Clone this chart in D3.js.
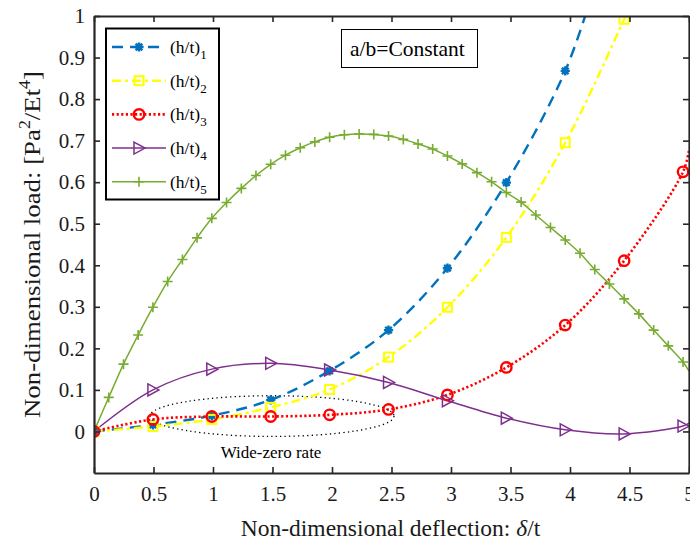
<!DOCTYPE html>
<html>
<head>
<meta charset="utf-8">
<script src="https://cdn.jsdelivr.net/npm/d3@7"></script>
<style>
	body { margin: 0; background: #fff; }
	svg { display: block; font-family: "Liberation Serif", "Times New Roman", serif; }
</style>
</head>
<body>
<div id="chart"></div>
<script>
/* marker x positions shared by series 1-4 */
const xMarks = [0, 0.495, 0.99, 1.485, 1.98, 2.475, 2.97, 3.465, 3.96, 4.455, 4.95];

const s1X = [0, 0.495, 0.99, 1.485, 1.98, 2.475, 2.97, 3.465, 3.96, 4.2];
const s1Y = [0, 0.016, 0.038, 0.076, 0.146, 0.244, 0.393, 0.599, 0.868, 1.066];

const s2X = [0, 0.495, 0.99, 1.485, 1.98, 2.475, 2.97, 3.465, 3.96, 4.455, 4.56];
const s2Y = [0, 0.012, 0.029, 0.058, 0.101, 0.179, 0.299, 0.467, 0.695, 0.992, 1.06];

const s3X = xMarks.concat([5]);
const s3Y = [0, 0.029, 0.036, 0.036, 0.040, 0.053, 0.088, 0.154, 0.256, 0.411, 0.625, 0.677];

const s4X = xMarks.concat([5]);
const s4Y = [0, 0.100, 0.150, 0.164, 0.148, 0.118, 0.074, 0.032, 0.004, -0.006, 0.013, 0.020];

const s5X = [0, 0.124, 0.248, 0.371, 0.495, 0.619, 0.743, 0.866, 0.99, 1.114, 1.238, 1.361, 1.485,
	1.609, 1.733, 1.856, 1.98, 2.104, 2.228, 2.351, 2.475, 2.599, 2.723, 2.846, 2.97, 3.094, 3.218,
	3.341, 3.465, 3.589, 3.713, 3.836, 3.96, 4.084, 4.208, 4.331, 4.455, 4.579, 4.703, 4.826, 4.95, 5];
const s5Y = [0, 0.082, 0.162, 0.232, 0.299, 0.361, 0.414, 0.466, 0.513, 0.551, 0.585, 0.616, 0.643,
	0.665, 0.683, 0.697, 0.708, 0.714, 0.716, 0.715, 0.711, 0.703, 0.692, 0.680, 0.663, 0.644, 0.623,
	0.601, 0.575, 0.552, 0.521, 0.491, 0.461, 0.429, 0.390, 0.355, 0.319, 0.283, 0.244, 0.206, 0.167, 0.145];

const seriesNames = ["1", "2", "3", "4", "5"];
const xTicks = [0, 0.5, 1, 1.5, 2, 2.5, 3, 3.5, 4, 4.5, 5];
const yTicks = [0, 0.1, 0.2, 0.3, 0.4, 0.5, 0.6, 0.7, 0.8, 0.9, 1];

/* ellipse around the flat part: centre x, centre y, x radius, y radius (data units) */
const zoneEllipse = [1.496, 0.037, 1.025, 0.049];

const width = 690, height = 547;
const margin = { left: 94, right: 1, top: 16, bottom: 74 };
const axisColor = "#262626";

const svg = d3.select("#chart").append("svg")
	.attr("width", width)
	.attr("height", height);

const x = d3.scaleLinear().domain([0, 5]).range([margin.left, width - margin.right]);
const y = d3.scaleLinear().domain([-0.1, 1]).range([height - margin.bottom, margin.top]);

svg.append("clipPath").attr("id", "plot-clip")
	.append("rect")
	.attr("x", x(0)).attr("y", y(1))
	.attr("width", x(5) - x(0)).attr("height", y(-0.1) - y(1));

/* marker shapes */
const markers = {
	asterisk: (g, c) => g.append("path")
		.attr("d", "M-4.6,0H4.6M0,-4.6V4.6M-3.3,-3.3L3.3,3.3M-3.3,3.3L3.3,-3.3")
		.attr("fill", "none").attr("stroke", c).attr("stroke-width", 2.4),
	square: (g, c) => g.append("rect")
		.attr("x", -4.5).attr("y", -4.5).attr("width", 9).attr("height", 9)
		.attr("fill", "none").attr("stroke", c).attr("stroke-width", 2),
	circle: (g, c) => g.append("circle")
		.attr("r", 5.2)
		.attr("fill", "none").attr("stroke", c).attr("stroke-width", 2.4),
	triangle: (g, c) => g.append("path")
		.attr("d", "M-5,-6L6,0L-5,6Z")
		.attr("fill", "none").attr("stroke", c).attr("stroke-width", 1.5),
	plus: (g, c) => g.append("path")
		.attr("d", "M-5,0H5M0,-5V5")
		.attr("fill", "none").attr("stroke", c).attr("stroke-width", 1.6)
};

const series = [
	{ xs: s1X, ys: s1Y, color: "#0072BD", width: 2.4, dash: "11,7", marker: "asterisk" },
	{ xs: s2X, ys: s2Y, color: "#FFFF00", width: 2.4, dash: "9,4,3,4", marker: "square" },
	{ xs: s3X, ys: s3Y, color: "#FF0000", width: 2.6, dash: "2.2,2.4", marker: "circle" },
	{ xs: s4X, ys: s4Y, color: "#7E2F8E", width: 1.5, dash: null, marker: "triangle" },
	{ xs: s5X, ys: s5Y, color: "#77AC30", width: 1.5, dash: null, marker: "plus" }
].map((s, i) => {
	s.name = seriesNames[i];
	s.points = s.xs.map((v, j) => ({ x: v, y: s.ys[j] }));
	return s;
});

const line = d3.line()
	.x(d => x(d.x))
	.y(d => y(d.y))
	.curve(d3.curveCatmullRom.alpha(0.5));

/* dotted ellipse + caption */
svg.append("ellipse")
	.attr("cx", x(zoneEllipse[0]))
	.attr("cy", y(zoneEllipse[1]))
	.attr("rx", x(zoneEllipse[2]) - x(0))
	.attr("ry", y(0) - y(zoneEllipse[3]))
	.attr("fill", "none")
	.attr("stroke", "#000")
	.attr("stroke-width", 1.3)
	.attr("stroke-dasharray", "1.3,3.2");

svg.append("text")
	.attr("x", x(zoneEllipse[0]) - 1)
	.attr("y", 458)
	.attr("text-anchor", "middle")
	.attr("font-size", "17px")
	.attr("fill", "#000")
	.text("Wide-zero rate");

const plot = svg.append("g").attr("clip-path", "url(#plot-clip)");

series.forEach(s => {
	plot.append("path")
		.datum(s.points)
		.attr("d", line)
		.attr("fill", "none")
		.attr("stroke", s.color)
		.attr("stroke-width", s.width)
		.attr("stroke-dasharray", s.dash);
});

series.forEach(s => {
	s.points.filter(d => d.x < 4.96 && d.y <= 1).forEach(d => {
		const g = plot.append("g").attr("transform", `translate(${x(d.x)},${y(d.y)})`);
		markers[s.marker](g, s.color);
	});
});

/* box axes with inward ticks */
const fmt = d => d3.format("~g")(d);

svg.append("g")
	.attr("transform", `translate(0,${y(-0.1)})`)
	.call(d3.axisBottom(x).tickValues(xTicks).tickFormat(fmt).tickSizeInner(-6).tickSizeOuter(0).tickPadding(13));
svg.append("g")
	.attr("transform", `translate(0,${y(1)})`)
	.call(d3.axisTop(x).tickValues(xTicks).tickFormat("").tickSizeInner(-6).tickSizeOuter(0));
svg.append("g")
	.attr("transform", `translate(${x(0)},0)`)
	.call(d3.axisLeft(y).tickValues(yTicks).tickFormat(fmt).tickSizeInner(-6).tickSizeOuter(0).tickPadding(9));
svg.append("g")
	.attr("transform", `translate(${x(5)},0)`)
	.call(d3.axisRight(y).tickValues(yTicks).tickFormat("").tickSizeInner(-6).tickSizeOuter(0));

svg.selectAll(".domain").attr("stroke", axisColor).attr("stroke-width", 2.2);
svg.selectAll(".tick line").attr("stroke", axisColor).attr("stroke-width", 1.6);
svg.selectAll(".tick text")
	.attr("font-family", "Liberation Serif")
	.attr("font-size", "21px")
	.attr("fill", "#1a1a1a");

/* axis titles */
const xTitle = svg.append("text")
	.attr("x", (x(0) + x(5)) / 2 - 1)
	.attr("y", 536)
	.attr("text-anchor", "middle")
	.attr("font-size", "23.5px")
	.attr("fill", "#1a1a1a");
xTitle.append("tspan").text("Non-dimensional deflection: ");
xTitle.append("tspan").attr("font-style", "italic").text("δ");
xTitle.append("tspan").text("/t");

const yTitle = svg.append("text")
	.attr("transform", `translate(40,${(y(-0.1) + y(1)) / 2}) rotate(-90)`)
	.attr("text-anchor", "middle")
	.attr("font-size", "24px")
	.attr("textLength", 347)
	.attr("lengthAdjust", "spacingAndGlyphs")
	.attr("fill", "#1a1a1a");
yTitle.append("tspan").text("Non-dimensional load: [Pa");
yTitle.append("tspan").attr("font-size", "16px").attr("dy", -10).text("2");
yTitle.append("tspan").attr("dy", 10).text("/Et");
yTitle.append("tspan").attr("font-size", "16px").attr("dy", -10).text("4");
yTitle.append("tspan").attr("dy", 10).text("]");

/* a/b note */
svg.append("rect")
	.attr("x", 341.5).attr("y", 29.5)
	.attr("width", 136).attr("height", 38)
	.attr("fill", "#fff")
	.attr("stroke", "#000")
	.attr("stroke-width", 1);
svg.append("text")
	.attr("x", 350).attr("y", 55.5)
	.attr("font-size", "21.5px")
	.attr("fill", "#000")
	.text("a/b=Constant");

/* legend */
const legend = svg.append("g");
legend.append("rect")
	.attr("x", 106).attr("y", 28.5)
	.attr("width", 113).attr("height", 171)
	.attr("fill", "#fff")
	.attr("stroke", "#000")
	.attr("stroke-width", 2);

series.forEach((s, i) => {
	const ly = 47 + i * 33.7;
	const row = legend.append("g");
	row.append("line")
		.attr("x1", 112).attr("x2", 166)
		.attr("y1", ly).attr("y2", ly)
		.attr("stroke", s.color)
		.attr("stroke-width", s.width)
		.attr("stroke-dasharray", s.dash);
	markers[s.marker](row.append("g").attr("transform", `translate(139,${ly})`), s.color);
	const t = row.append("text")
		.attr("x", 170).attr("y", ly + 6)
		.attr("font-size", "17.5px")
		.attr("fill", "#000");
	t.append("tspan").text("(h/t)");
	t.append("tspan").attr("font-size", "13px").attr("dy", 6).text(s.name);
});
</script>
</body>
</html>
